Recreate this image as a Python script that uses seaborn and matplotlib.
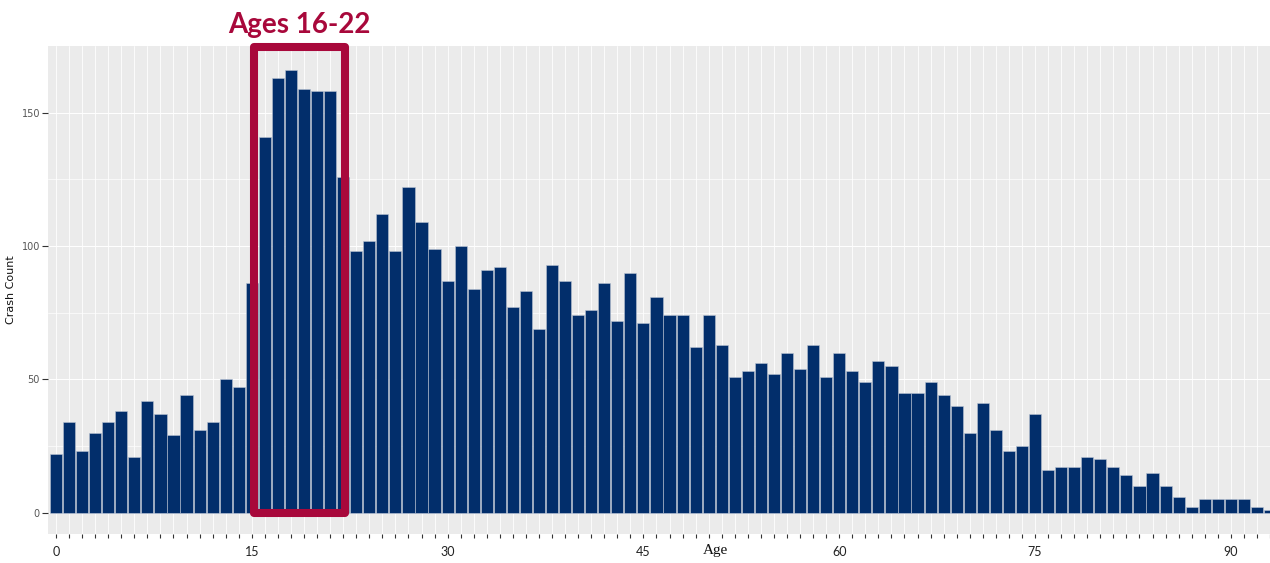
import matplotlib
matplotlib.use("Agg")
import matplotlib.pyplot as plt
import matplotlib.transforms as mtransforms
from matplotlib.patches import Rectangle
import seaborn as sns
import pandas as pd

# ---- data ----
ages = list(range(0, 94))
counts = [22, 34, 23, 30, 34, 38, 21, 42, 37, 29, 44, 31, 34, 50, 47, 86,
          141, 163, 166, 159, 158, 158, 126,
          98, 102, 112, 98, 122, 109, 99, 87, 100, 84, 91, 92, 77, 83, 69, 93,
          87, 74, 76, 86, 72, 90, 71, 81,
          74, 74, 62, 74, 63, 51, 53, 56, 52, 60, 54, 63, 51, 60, 53, 49, 57,
          55, 45, 45, 49, 44, 40, 30,
          41, 31, 23, 25, 37, 16, 17, 17, 21, 20, 17, 14, 10, 15, 10, 6, 2, 5,
          5, 5, 5, 2, 1]
x_label_ticks = [0, 15, 30, 45, 60, 75, 90]
y_ticks = [0, 50, 100, 150]
y_minor = [25, 75, 125]
highlight = (16, 22)
highlight_label = "Ages 16-22"

df = pd.DataFrame({"Age": ages, "Crash Count": counts})

sns.set_theme(style="darkgrid", rc={
    "axes.facecolor": "#EBEBEB",
    "grid.color": "white",
    "figure.facecolor": "white",
})
plt.rcParams["font.family"] = ["DejaVu Sans"]

BAR = "#022E6B"
RED = "#A8083B"

fig = plt.figure(figsize=(12.7, 5.63), dpi=100)
W, H = 1270, 563
pl, pr, pt, pb = 48.3, 1270, 45.7, 534
ax = fig.add_axes([pl / W, 1 - pb / H, (pr - pl) / W, (pb - pt) / H])

sns.barplot(data=df, x="Age", y="Crash Count", native_scale=True, width=0.93,
            color=BAR, saturation=1, errorbar=None, edgecolor="#b9c3d3",
            linewidth=0.4, ax=ax, zorder=2)

ax.set_xlim(-0.59, 92.8)
ax.set_ylim(-8.0, 175.1)

# ticks
ax.set_xticks(ages)
ax.set_xticklabels([str(a) if a in x_label_ticks else "" for a in ages],
                   fontfamily="Lato", fontsize=9, color="#222222")
ax.set_yticks(y_ticks)
ax.set_yticks(y_minor, minor=True)
ax.set_yticklabels([str(v) for v in y_ticks], fontsize=7, color="#555555")
ax.tick_params(axis="x", which="major", length=3, width=0.8, color="#333333",
               pad=6, bottom=True)
ax.tick_params(axis="y", which="major", length=4, width=0.8, color="#333333",
               pad=2, left=True)
ax.tick_params(axis="y", which="minor", length=0, left=False)

ax.grid(axis="x", which="major", color="white", linewidth=0.6)
ax.grid(axis="y", which="major", color="white", linewidth=0.7)
ax.grid(axis="y", which="minor", color="white", linewidth=0.5)
ax.set_axisbelow(True)
for s in ax.spines.values():
    s.set_visible(False)

ax.set_xlabel("Age", fontfamily="Liberation Serif", fontsize=11, color="#111111")
ax.xaxis.set_label_coords((715 - pl) / (pr - pl), -(544 - pb) / (pb - pt))
ax.set_ylabel("Crash Count", fontsize=8, color="#111111")
ax.yaxis.set_label_coords((16 - pl) / (pr - pl), 0.5)

# highlight box
bx0 = highlight[0] - 0.83
bx1 = highlight[1] + 0.15
by0, by1 = -0.1, 174.6
rect = Rectangle((bx0, by0), bx1 - bx0, by1 - by0, fill=False, edgecolor=RED,
                 linewidth=5.8, joinstyle="round", clip_on=False, zorder=6)
ax.add_patch(rect)

trans = mtransforms.blended_transform_factory(ax.transData, ax.transAxes)
ax.text((bx0 + bx1) / 2, (pb - 24.5) / (pb - pt), highlight_label,
        transform=trans, ha="center", va="center", fontfamily="Lato",
        fontweight="bold", fontsize=20, color=RED, clip_on=False)

fig.savefig("out.png", dpi=100)
